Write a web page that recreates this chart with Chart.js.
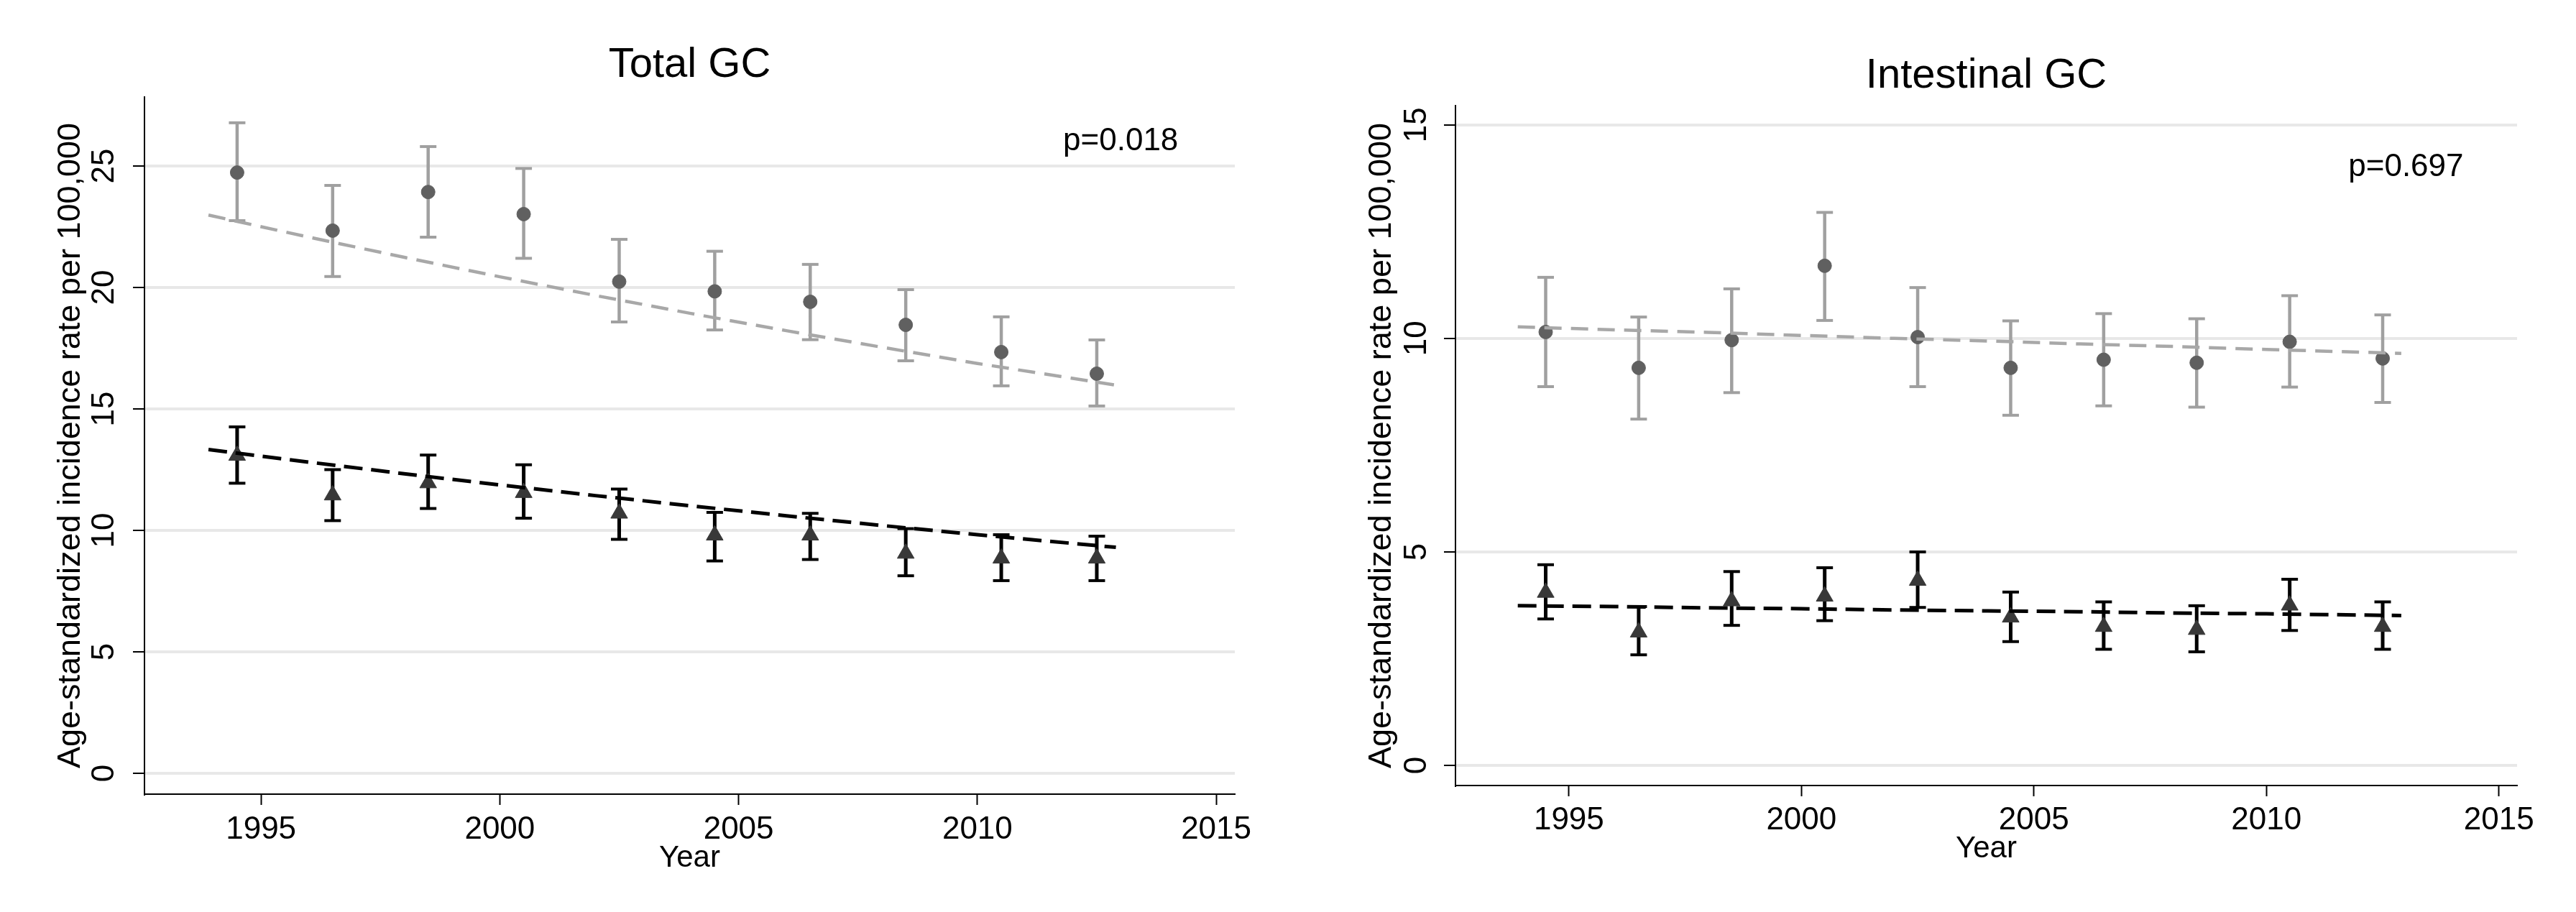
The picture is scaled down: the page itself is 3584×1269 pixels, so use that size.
<!DOCTYPE html>
<html><head><meta charset="utf-8">
<script src="https://cdn.jsdelivr.net/npm/chart.js@4.4.1/dist/chart.umd.min.js"></script>
<style>
html,body{margin:0;padding:0;background:#fff;width:3584px;height:1269px;overflow:hidden}
canvas{position:absolute;top:0}
#c1{left:0}
#c2{left:1792px}
</style></head><body>
<canvas id="c1" width="1792" height="1269"></canvas>
<canvas id="c2" width="1792" height="1269"></canvas>
<script>
// ---------- data ----------
const years = [1994.5, 1996.5, 1998.5, 2000.5, 2002.5, 2004.5, 2006.5, 2008.5, 2010.5, 2012.5];
const trendYears = [1993.9, 1996, 1998, 2000, 2002, 2004, 2006, 2008, 2010, 2012.9];

const chartTitles = ['Total GC', 'Intestinal GC'];
const pLabels = ['p=0.018', 'p=0.697'];
const yAxisTitle = 'Age-standardized incidence rate per 100,000';
const xAxisTitle = 'Year';
const xTickValues = [1995, 2000, 2005, 2010, 2015];
const yTicksTotal = [0, 5, 10, 15, 20, 25];
const yTicksIntestinal = [0, 5, 10, 15];

// Total GC – grey circles
const totalGrayEst = [24.73, 22.34, 23.93, 23.02, 20.24, 19.84, 19.41, 18.46, 17.34, 16.45];
const totalGrayLo  = [22.75, 20.45, 22.07, 21.20, 18.58, 18.25, 17.85, 16.98, 15.95, 15.12];
const totalGrayHi  = [26.78, 24.20, 25.80, 24.90, 21.98, 21.49, 20.95, 19.91, 18.79, 17.84];
const totalGrayTrend = [22.98, 22.07, 21.24, 20.44, 19.67, 18.93, 18.22, 17.54, 16.87, 15.98];
// Total GC – black triangles
const totalBlackEst = [13.08, 11.45, 11.95, 11.55, 10.70, 9.80, 9.80, 9.05, 8.85, 8.85];
const totalBlackLo  = [11.94, 10.40, 10.90, 10.50, 9.63, 8.74, 8.80, 8.13, 7.93, 7.93];
const totalBlackHi  = [14.26, 12.50, 13.10, 12.70, 11.70, 10.74, 10.70, 10.07, 9.82, 9.76];
const totalBlackTrend = [13.33, 12.81, 12.33, 11.87, 11.43, 11.01, 10.60, 10.20, 9.82, 9.30];

// Intestinal GC – grey circles
const intGrayEst = [10.15, 9.31, 9.96, 11.70, 10.03, 9.31, 9.50, 9.43, 9.92, 9.53];
const intGrayLo  = [8.87, 8.11, 8.73, 10.42, 8.87, 8.20, 8.42, 8.39, 8.86, 8.50];
const intGrayHi  = [11.43, 10.50, 11.16, 12.95, 11.19, 10.41, 10.58, 10.46, 11.00, 10.55];
const intGrayTrend = [10.27, 10.20, 10.14, 10.07, 10.00, 9.94, 9.87, 9.81, 9.74, 9.65];
// Intestinal GC – black triangles
const intBlackEst = [4.05, 3.12, 3.85, 3.96, 4.33, 3.47, 3.25, 3.18, 3.75, 3.25];
const intBlackLo  = [3.43, 2.59, 3.28, 3.39, 3.70, 2.90, 2.72, 2.66, 3.16, 2.72];
const intBlackHi  = [4.70, 3.72, 4.54, 4.63, 5.00, 4.06, 3.83, 3.74, 4.36, 3.83];
const intBlackTrend = [3.74, 3.72, 3.69, 3.67, 3.64, 3.62, 3.60, 3.57, 3.55, 3.51];

// ---------- helpers ----------
const FONT = "'Liberation Sans', Arial, Helvetica, sans-serif";
Chart.defaults.font.family = FONT;
Chart.defaults.color = '#000';

const pts = (xs, vals) => xs.map((x, i) => ({x, y: vals[i]}));
function whiskers(lo, hi) {
  const d = [];
  years.forEach((x, i) => { d.push({x, y: lo[i]}, {x, y: hi[i]}, {x, y: null}); });
  return d;
}
const caps = (lo, hi) => pts(years, lo).concat(pts(years, hi));

const GRAY_BAR = '#a0a0a0', GRAY_PT = '#606060', GRAY_TREND = '#a8a8a8', BLACK_PT = '#383838';

function datasets(p) {
  return [
    {type: 'line', data: pts(trendYears, p.bTrend), borderColor: '#000', borderWidth: 5, borderDash: [26, 12], pointRadius: 0, fill: false, order: 0},
    {type: 'line', data: pts(trendYears, p.gTrend), borderColor: GRAY_TREND, borderWidth: 4.5, borderDash: [24, 13], pointRadius: 0, fill: false, order: 1},
    {type: 'scatter', data: pts(years, p.bEst), pointStyle: 'triangle', pointRadius: 13.5, backgroundColor: BLACK_PT, borderColor: BLACK_PT, borderWidth: 1, order: 2},
    {type: 'scatter', data: pts(years, p.gEst), pointStyle: 'circle', pointRadius: 9.5, backgroundColor: GRAY_PT, borderColor: GRAY_PT, borderWidth: 1, order: 3},
    {type: 'scatter', data: caps(p.bLo, p.bHi), pointStyle: 'line', pointRadius: 11.5, borderColor: '#000', borderWidth: 4, order: 4},
    {type: 'scatter', data: caps(p.gLo, p.gHi), pointStyle: 'line', pointRadius: 11.5, borderColor: GRAY_BAR, borderWidth: 4, order: 5},
    {type: 'line', data: whiskers(p.bLo, p.bHi), borderColor: '#000', borderWidth: 5, pointRadius: 0, spanGaps: false, fill: false, order: 6},
    {type: 'line', data: whiskers(p.gLo, p.gHi), borderColor: GRAY_BAR, borderWidth: 4.5, pointRadius: 0, spanGaps: false, fill: false, order: 7}
  ];
}

const pTextPlugin = {
  id: 'ptext',
  afterDatasetsDraw(chart, args, opts) {
    const {ctx, scales: {x, y}} = chart;
    ctx.save();
    ctx.font = '44px ' + FONT;
    ctx.fillStyle = '#000';
    ctx.textAlign = 'center';
    ctx.textBaseline = 'middle';
    ctx.fillText(opts.text, x.getPixelForValue(opts.x), y.getPixelForValue(opts.y));
    ctx.restore();
  }
};

function makeChart(id, p, L) {
  new Chart(document.getElementById(id), {
    type: 'scatter',
    data: {datasets: datasets(p)},
    plugins: [pTextPlugin],
    options: {
      responsive: false, animation: false, devicePixelRatio: 1,
      layout: {padding: {left: 0, right: L.padRight, top: 0, bottom: 0}},
      plugins: {
        legend: {display: false}, tooltip: {enabled: false},
        title: {display: true, fullSize: false, text: p.title, color: '#000', font: {size: 58, weight: 'normal', lineHeight: 1}, padding: {top: L.titleTop, bottom: L.titleBottom}},
        ptext: {text: p.pLabel, x: 2013, y: p.pY}
      },
      scales: {
        x: {
          type: 'linear', min: 1992.56, max: 2015.39,
          afterBuildTicks: s => { s.ticks = xTickValues.map(v => ({value: v})); },
          afterFit: s => { s.height = L.xHeight; },
          ticks: {callback: v => String(v), font: {size: 44, lineHeight: 1}, color: '#000', padding: L.xTickPad, maxRotation: 0, minRotation: 0, autoSkip: false},
          grid: {drawOnChartArea: false, drawTicks: true, tickLength: 15, tickWidth: 2, tickColor: '#000'},
          border: {display: true, color: '#000', width: 2},
          title: {display: true, text: xAxisTitle, color: '#000', font: {size: 42, lineHeight: 1}, padding: {top: 0, bottom: L.yearPad}}
        },
        y: {
          type: 'linear', min: p.yMin, max: p.yMax,
          afterBuildTicks: s => { s.ticks = p.yTicks.map(v => ({value: v})); },
          afterFit: s => { s.width = L.yWidth; },
          ticks: {callback: v => String(v), font: {size: 44, lineHeight: 1}, color: '#000', padding: L.yTickPad, minRotation: 90, maxRotation: 90, crossAlign: 'center', autoSkip: false},
          grid: {color: '#e8e8e8', lineWidth: 4, drawTicks: true, tickLength: 16, tickWidth: 2, tickColor: '#000'},
          border: {display: true, color: '#000', width: 2},
          title: {display: true, text: yAxisTitle, color: '#000', font: {size: 45, lineHeight: 1}, padding: {top: L.yTitlePad, bottom: 0}}
        }
      }
    }
  });
}

makeChart('c1', {
  title: chartTitles[0], pLabel: pLabels[0], pY: 26, yMin: -0.86, yMax: 27.84, yTicks: yTicksTotal,
  gEst: totalGrayEst, gLo: totalGrayLo, gHi: totalGrayHi, gTrend: totalGrayTrend,
  bEst: totalBlackEst, bLo: totalBlackLo, bHi: totalBlackHi, bTrend: totalBlackTrend
}, {padRight: 74, titleTop: 62, titleBottom: 15, xHeight: 164, xTickPad: 13, yearPad: 54, yWidth: 201, yTickPad: 14.5, yTitlePad: 76.5});

makeChart('c2', {
  title: chartTitles[1], pLabel: pLabels[1], pY: 14, yMin: -0.47, yMax: 15.45, yTicks: yTicksIntestinal,
  gEst: intGrayEst, gLo: intGrayLo, gHi: intGrayHi, gTrend: intGrayTrend,
  bEst: intBlackEst, bLo: intBlackLo, bHi: intBlackHi, bTrend: intBlackTrend
}, {padRight: 82, titleTop: 77, titleBottom: 12, xHeight: 176, xTickPad: 12, yearPad: 67, yWidth: 233, yTickPad: 12.5, yTitlePad: 108.5});
</script>
</body></html>
